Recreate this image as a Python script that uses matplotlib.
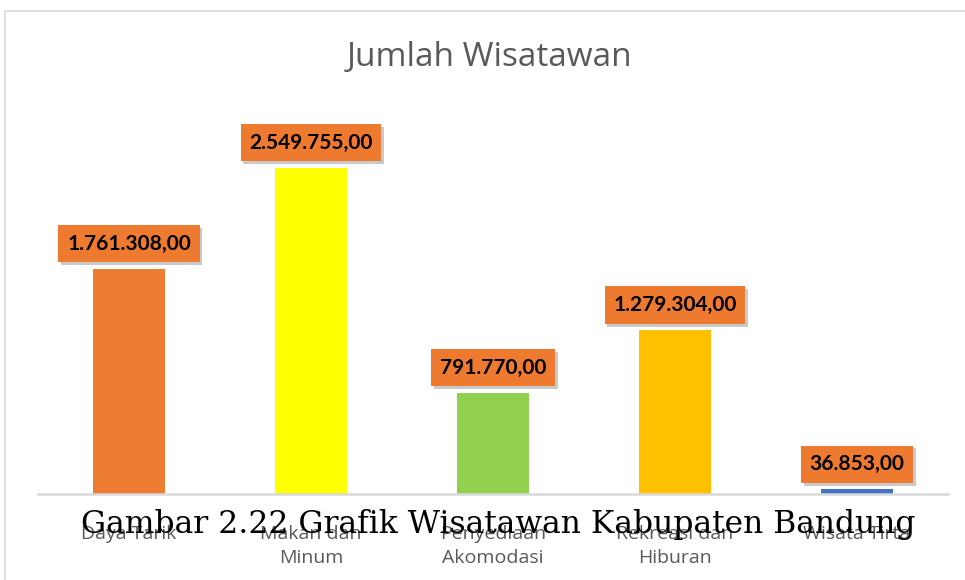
import matplotlib.pyplot as plt
from matplotlib.patches import Rectangle

# data
kategori = ['Daya Tarik', 'Makan dan\nMinum', 'Penyediaan\nAkomodasi', 'Rekreasi dan\nHiburan', 'Wisata Tirta']
jumlah = [1761308, 2549755, 791770, 1279304, 36853]
label = ['1.761.308,00', '2.549.755,00', '791.770,00', '1.279.304,00', '36.853,00']
warna = ['#ED7D31', '#FFFF00', '#92D050', '#FFC000', '#4472C4']

fig = plt.figure(figsize=(9.65, 5.8), dpi=100)
W, H = 965, 580

# bingkai chart (kanan dan bawah terpotong)
fig.patches.append(Rectangle((5 / W, -0.1), 1.2, 1.1 - 11 / H, transform=fig.transFigure,
                             fill=False, edgecolor='#d9d9d9', linewidth=1.2))

ax = fig.add_axes([38 / W, (H - 494) / H, 910 / W, (494 - 110) / H])
x = range(len(kategori))
ax.bar(x, jumlah, width=0.4, color=warna, zorder=2)
ax.set_xlim(-0.5, len(kategori) - 0.5)
ax.set_ylim(0, 3000000)
ax.set_yticks([])
for s in ['top', 'right', 'left']:
    ax.spines[s].set_visible(False)
ax.spines['bottom'].set_color('#d9d9d9')
ax.spines['bottom'].set_linewidth(1.8)
ax.set_xticks(list(x))
ax.set_xticklabels(kategori, fontsize=14, color='#595959', family='Open Sans',
                   linespacing=1.45, va='top')
ax.tick_params(axis='x', length=0, pad=22)

# label data
for i, v in enumerate(jumlah):
    ax.annotate(label[i], (i, v), xytext=(2, 16), textcoords='offset points',
                ha='center', va='center', fontsize=15, fontweight='bold',
                family='Lato', color='none', zorder=3,
                bbox=dict(boxstyle='square,pad=0.42', fc='#888888', ec='none', alpha=0.45))
    ax.annotate(label[i], (i, v), xytext=(0, 18), textcoords='offset points',
                ha='center', va='center', fontsize=15, fontweight='bold',
                family='Lato', color='black', zorder=4,
                bbox=dict(boxstyle='square,pad=0.42', fc='#EE7A2F', ec='none'))

fig.text(490 / W, 1 - 58 / H, 'Jumlah Wisatawan', ha='center', va='center',
         fontsize=24, color='#595959', family='Open Sans')

# caption yang menimpa grafik
fig.text(498 / W, 1 - 525 / H, 'Gambar 2.22 Grafik Wisatawan Kabupaten Bandung',
         ha='center', va='center', fontsize=22.6, color='black', family='DejaVu Serif')

fig.savefig('out.png', dpi=100)
